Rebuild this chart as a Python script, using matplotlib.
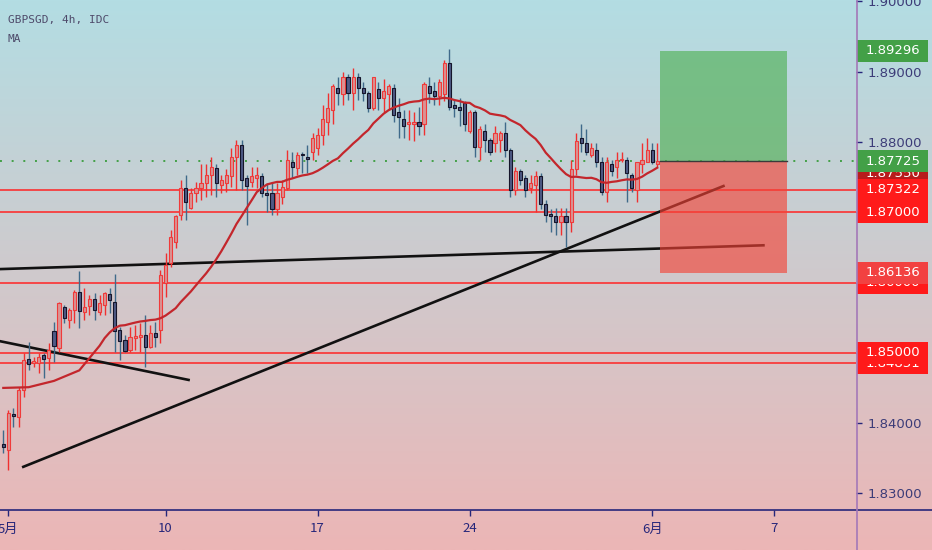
import numpy as np
import matplotlib
matplotlib.use("Agg")
import matplotlib.pyplot as plt
from matplotlib.lines import Line2D
from matplotlib.patches import Rectangle

# ----------------------- Data -----------------------
# GBPSGD 4h candles, bar index 0 = first visible bar
opens = [1.8370, 1.8361, 1.8413, 1.8408, 1.8447, 1.8491, 1.8485, 1.8485, 1.8497, 1.8493,
         1.8531, 1.8507, 1.8565, 1.8547, 1.8561, 1.8587, 1.8558, 1.8567, 1.8577, 1.8558,
         1.8568, 1.8584, 1.8572, 1.8532, 1.8518, 1.8504, 1.8521, 1.8522, 1.8525, 1.8508,
         1.8528, 1.8532, 1.8599, 1.8628, 1.8657, 1.8696, 1.8735, 1.8706, 1.8728, 1.8735,
         1.8742, 1.8753, 1.8763, 1.8739, 1.8742, 1.8751, 1.8779, 1.8796, 1.8748, 1.8743,
         1.8749, 1.8751, 1.8728, 1.8728, 1.8704, 1.8722, 1.8735, 1.8772, 1.8763, 1.8783,
         1.8779, 1.8785, 1.8792, 1.8810, 1.8829, 1.8846, 1.8877, 1.8868, 1.8893, 1.8870,
         1.8892, 1.8877, 1.8869, 1.8849, 1.8875, 1.8863, 1.8868, 1.8877, 1.8842, 1.8833,
         1.8825, 1.8825, 1.8829, 1.8825, 1.8879, 1.8872, 1.8865, 1.8868, 1.8912, 1.8852,
         1.8850, 1.8856, 1.8815, 1.8843, 1.8793, 1.8815, 1.8803, 1.8799, 1.8803, 1.8813,
         1.8789, 1.8732, 1.8758, 1.8749, 1.8735, 1.8739, 1.8752, 1.8711, 1.8698, 1.8694,
         1.8686, 1.8694, 1.8686, 1.8761, 1.8806, 1.8799, 1.8782, 1.8789, 1.8772, 1.8729,
         1.8768, 1.8765, 1.8775, 1.8775, 1.8753, 1.8732, 1.8768, 1.8772, 1.8789, 1.8768]
highs = [1.8390, 1.8418, 1.8421, 1.8451, 1.8500, 1.8515, 1.8494, 1.8500, 1.8500, 1.8514,
         1.8544, 1.8572, 1.8568, 1.8564, 1.8590, 1.8617, 1.8592, 1.8582, 1.8585, 1.8582,
         1.8587, 1.8592, 1.8612, 1.8537, 1.8525, 1.8537, 1.8540, 1.8542, 1.8554, 1.8540,
         1.8544, 1.8618, 1.8642, 1.8675, 1.8696, 1.8746, 1.8753, 1.8735, 1.8743, 1.8768,
         1.8768, 1.8778, 1.8768, 1.8753, 1.8761, 1.8792, 1.8803, 1.8803, 1.8753, 1.8765,
         1.8765, 1.8756, 1.8742, 1.8742, 1.8742, 1.8746, 1.8789, 1.8785, 1.8785, 1.8786,
         1.8796, 1.8813, 1.8820, 1.8853, 1.8870, 1.8882, 1.8893, 1.8900, 1.8896, 1.8905,
         1.8898, 1.8885, 1.8872, 1.8893, 1.8885, 1.8889, 1.8882, 1.8882, 1.8863, 1.8846,
         1.8846, 1.8842, 1.8850, 1.8885, 1.8892, 1.8885, 1.8889, 1.8917, 1.8932, 1.8860,
         1.8863, 1.8858, 1.8846, 1.8846, 1.8822, 1.8825, 1.8806, 1.8822, 1.8815, 1.8828,
         1.8792, 1.8765, 1.8761, 1.8753, 1.8753, 1.8758, 1.8756, 1.8718, 1.8704, 1.8706,
         1.8706, 1.8706, 1.8775, 1.8813, 1.8825, 1.8818, 1.8799, 1.8799, 1.8778, 1.8779,
         1.8775, 1.8785, 1.8785, 1.8778, 1.8756, 1.8772, 1.8799, 1.8806, 1.8799, 1.8799]
lows = [1.8357, 1.8333, 1.8394, 1.8394, 1.8437, 1.8475, 1.8480, 1.8471, 1.8464, 1.8475,
        1.8487, 1.8501, 1.8542, 1.8535, 1.8542, 1.8535, 1.8547, 1.8554, 1.8547, 1.8554,
        1.8554, 1.8557, 1.8501, 1.8490, 1.8501, 1.8501, 1.8504, 1.8501, 1.8480, 1.8507,
        1.8508, 1.8514, 1.8580, 1.8622, 1.8649, 1.8689, 1.8689, 1.8704, 1.8714, 1.8718,
        1.8722, 1.8725, 1.8722, 1.8728, 1.8729, 1.8736, 1.8732, 1.8732, 1.8682, 1.8736,
        1.8735, 1.8722, 1.8701, 1.8696, 1.8696, 1.8711, 1.8732, 1.8749, 1.8753, 1.8756,
        1.8756, 1.8775, 1.8782, 1.8796, 1.8810, 1.8825, 1.8853, 1.8853, 1.8860, 1.8846,
        1.8860, 1.8858, 1.8843, 1.8846, 1.8846, 1.8842, 1.8846, 1.8828, 1.8806, 1.8806,
        1.8803, 1.8801, 1.8810, 1.8810, 1.8856, 1.8853, 1.8853, 1.8858, 1.8846, 1.8836,
        1.8822, 1.8815, 1.8813, 1.8778, 1.8775, 1.8785, 1.8782, 1.8785, 1.8786, 1.8778,
        1.8721, 1.8725, 1.8739, 1.8721, 1.8728, 1.8701, 1.8704, 1.8686, 1.8672, 1.8668,
        1.8668, 1.8651, 1.8672, 1.8753, 1.8786, 1.8782, 1.8779, 1.8765, 1.8725, 1.8715,
        1.8751, 1.8749, 1.8771, 1.8715, 1.8729, 1.8715, 1.8756, 1.8771, 1.8768, 1.8765]
closes = [1.8366, 1.8414, 1.8410, 1.8447, 1.8490, 1.8484, 1.8488, 1.8494, 1.8491, 1.8504,
          1.8510, 1.8571, 1.8550, 1.8561, 1.8587, 1.8560, 1.8565, 1.8577, 1.8561, 1.8571,
          1.8585, 1.8575, 1.8531, 1.8517, 1.8503, 1.8522, 1.8524, 1.8525, 1.8508, 1.8528,
          1.8522, 1.8611, 1.8625, 1.8665, 1.8694, 1.8735, 1.8715, 1.8728, 1.8735, 1.8742,
          1.8753, 1.8765, 1.8742, 1.8746, 1.8753, 1.8779, 1.8796, 1.8746, 1.8738, 1.8752,
          1.8753, 1.8728, 1.8725, 1.8704, 1.8728, 1.8736, 1.8775, 1.8765, 1.8782, 1.8781,
          1.8776, 1.8806, 1.8810, 1.8832, 1.8849, 1.8879, 1.8869, 1.8893, 1.8869, 1.8893,
          1.8877, 1.8869, 1.8849, 1.8892, 1.8863, 1.8872, 1.8879, 1.8839, 1.8835, 1.8823,
          1.8829, 1.8829, 1.8822, 1.8882, 1.8870, 1.8865, 1.8886, 1.8913, 1.8850, 1.8849,
          1.8846, 1.8825, 1.8843, 1.8793, 1.8818, 1.8803, 1.8785, 1.8813, 1.8813, 1.8789,
          1.8732, 1.8758, 1.8746, 1.8732, 1.8742, 1.8751, 1.8711, 1.8696, 1.8694, 1.8686,
          1.8694, 1.8686, 1.8761, 1.8801, 1.8798, 1.8785, 1.8792, 1.8772, 1.8729, 1.8771,
          1.8758, 1.8775, 1.8776, 1.8756, 1.8735, 1.8771, 1.8775, 1.8789, 1.8771, 1.87725]

# MA: values read for the first bars (history before the window is not visible),
# the rest is the 20-bar simple average of the closes
ma_len = 20
ma_early_bars = [0, 5, 10, 15]
ma_early_vals = [1.8450, 1.8451, 1.8460, 1.8475]

# horizontal levels
levels = [1.87322, 1.87000, 1.86000, 1.85000, 1.84851]
last_price = 1.87725

# trend lines: (bar0, price0, bar1, price1)
trend_lines = [(-1, 1.8619, 150.2, 1.8653),
               (3.7, 1.8337, 142.3, 1.8738),
               (-1, 1.8517, 36.8, 1.8461)]

# long position tool
pos_bars = (129.5, 154.6)
target, entry, stop = 1.89296, 1.87725, 1.86136

# axis ticks
date_pos = [1, 32, 62, 92, 128, 152]
date_labels = ["5月", "10", "17", "24", "6月", "7"]
price_ticks = [1.83, 1.84, 1.85, 1.86, 1.87, 1.88, 1.89, 1.90]

# right-axis price tags, back to front: (price, text, colour)
tags = [(1.86000, "1.86000", "#ff1a1a"),
        (stop, "1.86136", "#f24141"),
        (1.84851, "1.84851", "#ff1a1a"),
        (1.85000, "1.85000", "#ff1a1a"),
        (1.87550, "1.87550", "#b71c1c"),
        (entry, "1.87725", "#43a047"),
        (1.87322, "1.87322", "#ff1a1a"),
        (1.87000, "1.87000", "#ff1a1a"),
        (target, "1.89296", "#43a047")]

# ----------------------- Figure -----------------------
W, H, DPI = 932, 550, 100
fig = plt.figure(figsize=(W / DPI, H / DPI), dpi=DPI)

# gradient background over the whole canvas
bg = fig.add_axes([0, 0, 1, 1], zorder=-10)
top_c = np.array([179, 221, 227]) / 255
bot_c = np.array([236, 182, 182]) / 255
t = np.linspace(0, 1, 256)[:, None]
grad = (top_c * (1 - t) + bot_c * t)[:, None, :]
bg.imshow(grad, aspect="auto", extent=[0, 1, 0, 1], origin="upper")
bg.axis("off")

PLOT_W, PLOT_B = 856, 40
ax = fig.add_axes([0, PLOT_B / H, PLOT_W / W, 1 - PLOT_B / H])
ax.patch.set_alpha(0)
Y_TOP = 1.9002
Y_BOT = Y_TOP - (H - PLOT_B) * 0.0001423
ax.set_ylim(Y_BOT, Y_TOP)
ax.set_xlim(-0.65, 168.2)

NAVY = "#26267a"
for lv in levels:
    ax.axhline(lv, color="#ff2424", lw=1.1, zorder=1)
ax.axhline(last_price, color="#43a047", lw=1.4, ls=(0, (1, 5)), zorder=1)

for b0, p0, b1, p1 in trend_lines:
    ax.plot([b0, b1], [p0, p1], color="#111111", lw=1.9, solid_capstyle="butt", zorder=2)

o = np.array(opens)
hi = np.array(highs)
lo = np.array(lows)
c = np.array(closes)
k = np.arange(len(o))
up = c >= o
body = np.maximum(np.abs(c - o), 0.00008)
base = np.minimum(o, c)

ax.vlines(k[up], lo[up], hi[up], color="#f03030", lw=1.0, zorder=3)
ax.vlines(k[~up], lo[~up], hi[~up], color="#3f6a8a", lw=1.0, zorder=3)
ax.bar(k[up], body[up], bottom=base[up], width=0.62, color="#d99393",
       edgecolor="#f03a3a", linewidth=0.8, zorder=4)
ax.bar(k[~up], body[~up], bottom=base[~up], width=0.62, color="#4f5a86",
       edgecolor="#15152a", linewidth=0.8, zorder=4)

sma = np.convolve(c, np.ones(ma_len) / ma_len, mode="valid")
ma_x = ma_early_bars + list(range(ma_len - 1, len(c)))
ma_y = ma_early_vals + list(sma)
ax.plot(ma_x, ma_y, color="#c3262c", lw=1.6, zorder=5)

# position tool
x0, x1 = pos_bars
ax.add_patch(Rectangle((x0, entry), x1 - x0, target - entry, facecolor="#4caf50",
                       alpha=0.62, lw=0, zorder=7))
ax.add_patch(Rectangle((x0, stop), x1 - x0, entry - stop, facecolor="#f44336",
                       alpha=0.63, lw=0, zorder=7))
ax.plot([x0, x1], [entry, entry], color="#3a3a3a", lw=1.0, zorder=8)

# axes cosmetics
for s in ax.spines.values():
    s.set_visible(False)
ax.yaxis.tick_right()
ax.set_yticks(price_ticks)
ax.set_yticklabels([f"{p:.5f}" for p in price_ticks])
ax.tick_params(axis="y", right=True, left=False, length=4, width=1, color=NAVY,
               labelcolor="#3c3c78", labelsize=9.5, pad=4)
ax.set_xticks(date_pos)
ax.set_xticklabels(date_labels, family=["Liberation Sans Narrow", "Noto Sans CJK JP"])
ax.tick_params(axis="x", length=4, width=1, color=NAVY, labelcolor=NAVY,
               labelsize=9.5, pad=5)

# axis lines spanning the canvas
fig.add_artist(Line2D([0, 1], [PLOT_B / H, PLOT_B / H], transform=fig.transFigure,
                      color=NAVY, lw=1.2, zorder=20))
fig.add_artist(Line2D([(PLOT_W + 0.5) / W] * 2, [0, 1], transform=fig.transFigure,
                      color="#a478b8", lw=1.2, zorder=20))

# price tags on the right scale, each tag covers the ones before it
rax = fig.add_axes([PLOT_W / W, PLOT_B / H, (W - PLOT_W) / W, 1 - PLOT_B / H], zorder=3)
rax.set_ylim(Y_BOT, Y_TOP)
rax.set_xlim(0, W - PLOT_W)
rax.axis("off")
half = 11 * 0.0001423
for i, (p, txt, col) in enumerate(tags):
    rax.add_patch(Rectangle((1, p - half), 71, 2 * half, facecolor=col, lw=0,
                            zorder=10 + 2 * i))
    rax.text(37, p, txt, color="white", fontsize=9.5, ha="center", va="center",
             zorder=11 + 2 * i)

fig.text(8 / W, 1 - 20 / H, "GBPSGD, 4h, IDC", family="DejaVu Sans Mono",
         fontsize=8, color="#4e4a6a", va="center")
fig.text(8 / W, 1 - 39 / H, "MA", family="DejaVu Sans Mono",
         fontsize=8, color="#4e4a6a", va="center")

fig.savefig("out.png", dpi=DPI)
